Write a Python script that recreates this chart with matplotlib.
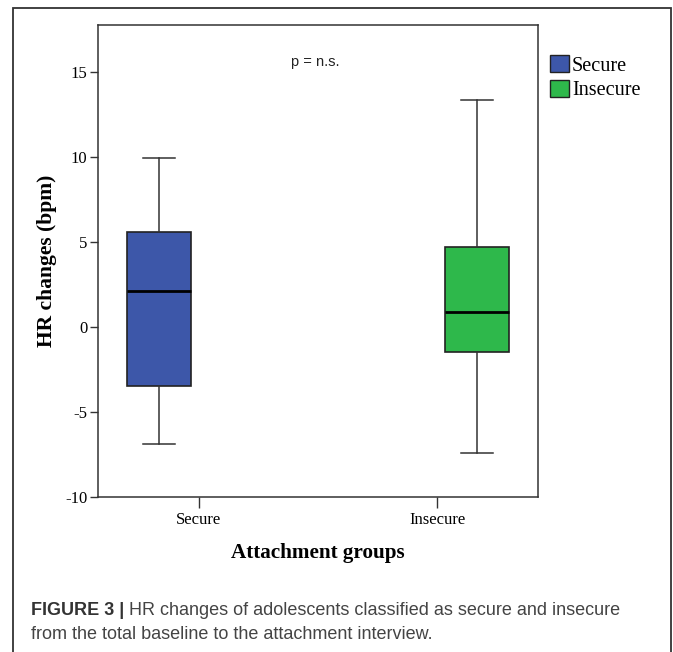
import matplotlib
matplotlib.use("Agg")
import matplotlib.pyplot as plt
from matplotlib.patches import Rectangle, Patch

# ---- data ----
groups = ["Secure", "Insecure"]
colors = ["#3d57a9", "#2eb84b"]
whislo = [-6.86, -7.41]
q1 = [-3.47, -1.45]
med = [2.12, 0.90]
q3 = [5.57, 4.72]
whishi = [9.92, 13.35]
yticks = [-10, -5, 0, 5, 10, 15]

# ---- figure ----
fig = plt.figure(figsize=(6.73, 6.52), dpi=100)
# axes box: x 98..538 px, y 25..497 px
ax = fig.add_axes([98 / 673, 155 / 652, 440 / 673, 472 / 652])

serif = "Liberation Serif"
sans = "Liberation Sans"

# clustered layout (SPSS): each group sits in its own slot of the cluster
offset = 0.168
stats = []
for i, g in enumerate(groups):
    stats.append({"label": g, "whislo": whislo[i], "q1": q1[i], "med": med[i],
                  "q3": q3[i], "whishi": whishi[i], "fliers": []})
pos = [0 - offset, 1 + offset]

bp = ax.bxp(stats, positions=pos, widths=0.269, patch_artist=True,
            showfliers=False, capwidths=0.134, manage_ticks=False,
            boxprops=dict(edgecolor="#222222", linewidth=1.2),
            whiskerprops=dict(color="#333333", linewidth=1.1),
            capprops=dict(color="#333333", linewidth=1.1),
            medianprops=dict(color="black", linewidth=2.0))
for patch, c in zip(bp["boxes"], colors):
    patch.set_facecolor(c)

ax.set_xlim(-0.424, 1.424)
ax.set_ylim(-10, 17.76)
ax.set_xticks([0, 1])
ax.set_xticklabels(groups, family=serif, fontsize=12)
ax.set_yticks(yticks)
ax.set_yticklabels([str(t) for t in yticks], family=serif, fontsize=12)
ax.tick_params(axis="x", direction="out", length=8, width=1, color="#333333", pad=3)
ax.tick_params(axis="y", direction="out", length=6, width=1, color="#333333", pad=1.5)
for s in ax.spines.values():
    s.set_color("#333333")
    s.set_linewidth(1.1)

ax.set_ylabel("HR changes (bpm)", family=serif, fontsize=15.5, fontweight="bold")
ax.yaxis.set_label_coords(-0.093, 0.5)
ax.set_xlabel("Attachment groups", family=serif, fontsize=15.2, fontweight="bold")
ax.xaxis.label.set_va("baseline")
ax.xaxis.set_label_coords(0.5, -0.1292)

ax.text(0.493, 0.9216, "p = n.s.", transform=ax.transAxes, ha="center",
        va="center", family=sans, fontsize=10.5, color="#222222")

# ---- legend ----
handles = [Patch(facecolor=c, edgecolor="#222222", label=g)
           for g, c in zip(groups, colors)]
leg = fig.legend(handles=handles, loc="upper left",
                 bbox_to_anchor=(550 / 673, 1 - 55 / 652), frameon=False,
                 prop=dict(family=serif, size=14.6), handlelength=0.94,
                 handleheight=0.92, handletextpad=0.15, labelspacing=0.2,
                 borderaxespad=0, borderpad=0.0)

# ---- outer frame ----
fig.patches.append(Rectangle((13 / 673, -0.05), 658 / 673, 1 - 8 / 652 + 0.05,
                             transform=fig.transFigure, fill=False,
                             edgecolor="#333333", linewidth=1.3))

# ---- caption ----
t1 = fig.text(31 / 673, 1 - 615 / 652, "FIGURE 3 |", family=sans,
              fontsize=13, fontweight="bold", color="#333333", va="baseline")
ax.annotate(" HR changes of adolescents classified as secure and insecure",
            xy=(1, 0), xycoords=t1, va="bottom", ha="left", family=sans,
            fontsize=13, color="#444444", annotation_clip=False)
fig.text(31 / 673, 1 - 639 / 652,
         "from the total baseline to the attachment interview.",
         family=sans, fontsize=13, color="#444444", va="baseline")

fig.savefig("out.png", dpi=100)
